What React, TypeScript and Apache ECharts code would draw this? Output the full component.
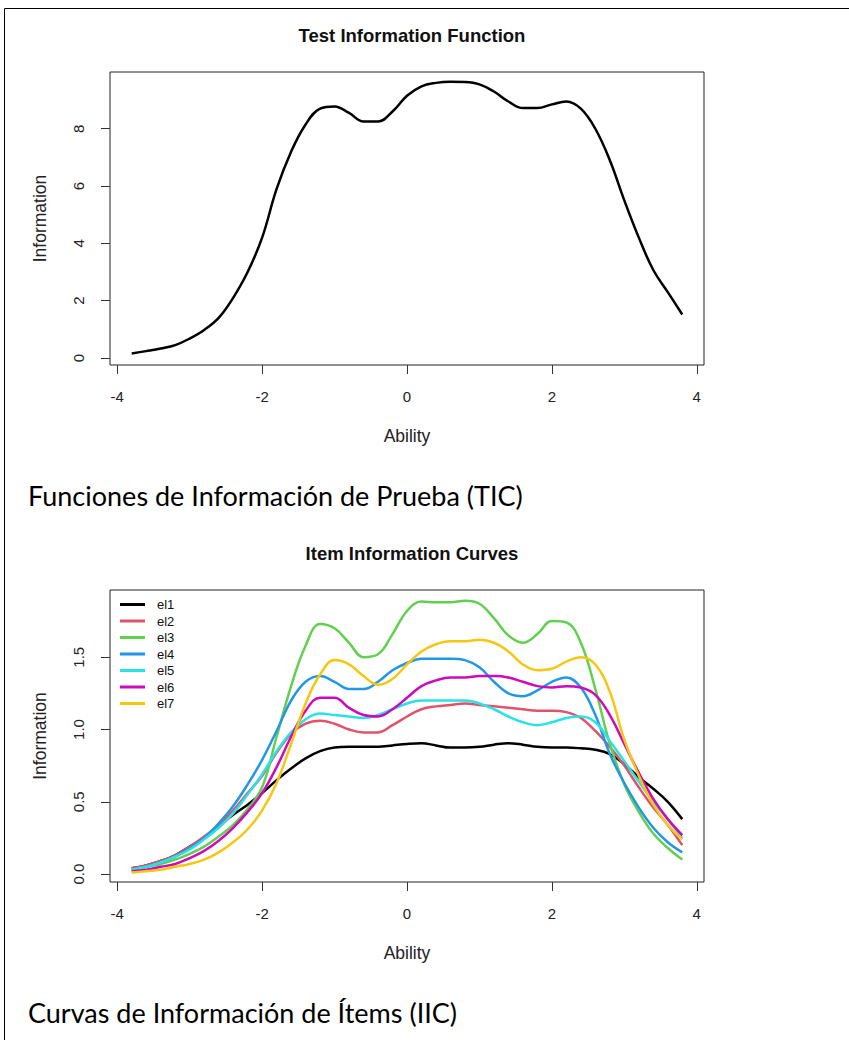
import React, { useEffect, useRef } from "react";
import * as echarts from "echarts";

const theta = [
  -3.8, -3.6, -3.4, -3.2, -3.0, -2.8, -2.6, -2.4, -2.2, -2.0, -1.8, -1.6, -1.4,
  -1.2, -1.0, -0.8, -0.6, -0.4, -0.2, 0.0, 0.2, 0.4, 0.6, 0.8, 1.0, 1.2, 1.4,
  1.6, 1.8, 2.0, 2.2, 2.4, 2.6, 2.8, 3.0, 3.2, 3.4, 3.6, 3.8,
];

const testInfo = [
  0.16, 0.24, 0.33, 0.45, 0.68, 0.98, 1.4, 2.1, 3.0, 4.2, 5.9, 7.2, 8.15, 8.7,
  8.78, 8.55, 8.25, 8.25, 8.6, 9.15, 9.48, 9.6, 9.64, 9.63, 9.55, 9.3, 8.95,
  8.72, 8.72, 8.85, 8.95, 8.7, 8.0, 6.9, 5.5, 4.2, 3.07, 2.3, 1.52,
];

const itemNames = ["el1", "el2", "el3", "el4", "el5", "el6", "el7"];
const itemColors = ["#000000", "#DF536B", "#61D04F", "#2297E6", "#28E2E5", "#CD0BBC", "#F5C710"];

const el1 = [
  0.04, 0.06, 0.09, 0.13, 0.19, 0.25, 0.33, 0.41, 0.48, 0.56, 0.65, 0.73, 0.8,
  0.85, 0.875, 0.88, 0.88, 0.88, 0.89, 0.9, 0.905, 0.89, 0.875, 0.875, 0.88,
  0.895, 0.905, 0.895, 0.88, 0.875, 0.875, 0.87, 0.86, 0.83, 0.76, 0.67, 0.59,
  0.5, 0.38,
];
const el2 = [
  0.04, 0.06, 0.09, 0.13, 0.19, 0.26, 0.34, 0.44, 0.56, 0.68, 0.84, 0.97, 1.04,
  1.06, 1.04, 1.0, 0.98, 0.98, 1.03, 1.09, 1.14, 1.16, 1.17, 1.18, 1.17, 1.16,
  1.15, 1.14, 1.13, 1.13, 1.12, 1.08, 0.99, 0.88, 0.75, 0.6, 0.46, 0.34, 0.2,
];
const el3 = [
  0.03, 0.05, 0.07, 0.1, 0.14, 0.19, 0.26, 0.34, 0.45, 0.6, 0.95, 1.3, 1.58,
  1.73, 1.7, 1.6, 1.5, 1.52, 1.66, 1.82, 1.885, 1.88, 1.88, 1.89, 1.87, 1.77,
  1.65, 1.6, 1.66, 1.75, 1.74, 1.6, 1.28, 0.9, 0.62, 0.43, 0.28, 0.18, 0.1,
];
const el4 = [
  0.03, 0.05, 0.08, 0.12, 0.18, 0.25, 0.35, 0.47, 0.62, 0.79, 0.99, 1.2, 1.33,
  1.37, 1.33, 1.28, 1.28, 1.33, 1.41, 1.46, 1.49, 1.49, 1.49, 1.48, 1.43, 1.33,
  1.25, 1.23, 1.27, 1.33, 1.36, 1.29, 1.1, 0.83, 0.63, 0.46, 0.32, 0.22, 0.15,
];
const el5 = [
  0.03, 0.05, 0.08, 0.12, 0.17, 0.24, 0.32, 0.42, 0.55, 0.69, 0.85, 0.98, 1.07,
  1.11, 1.1, 1.09, 1.08, 1.1, 1.14, 1.18, 1.2, 1.2, 1.2, 1.2, 1.18, 1.14, 1.09,
  1.05, 1.03, 1.05, 1.08, 1.09, 1.05, 0.92, 0.78, 0.64, 0.5, 0.38, 0.25,
];
const el6 = [
  0.02, 0.03, 0.05, 0.07, 0.11, 0.16, 0.23, 0.32, 0.43, 0.56, 0.74, 0.95, 1.13,
  1.22, 1.22, 1.15, 1.1, 1.09, 1.14, 1.22, 1.3, 1.34, 1.36, 1.36, 1.37, 1.37,
  1.36, 1.33, 1.3, 1.29, 1.3, 1.29, 1.24, 1.1, 0.9, 0.7, 0.52, 0.38, 0.27,
];
const el7 = [
  0.01, 0.02, 0.03, 0.05, 0.07, 0.1, 0.15, 0.22, 0.31, 0.44, 0.63, 0.9, 1.18,
  1.38, 1.48, 1.45, 1.37, 1.31, 1.35, 1.45, 1.54, 1.59, 1.61, 1.61, 1.62, 1.6,
  1.54, 1.45, 1.41, 1.42, 1.47, 1.5, 1.45, 1.26, 0.93, 0.68, 0.48, 0.34, 0.24,
];
const itemValues = [el1, el2, el3, el4, el5, el6, el7];

const xTicks = [-4, -2, 0, 2, 4];
const topYTicks = [0, 2, 4, 6, 8];
const bottomYTicks = [0, 0.5, 1.0, 1.5];

const FONT = "Liberation Sans";

export default function App() {
  const ref = useRef<HTMLDivElement>(null);
  useEffect(() => {
    if (!ref.current) return;
    const chart = echarts.init(ref.current, null, { renderer: "svg" });

    const xAxisBase = (gridIndex: number) => ({
      type: "value",
      gridIndex,
      min: -4.1,
      max: 4.1,
      name: "Ability",
      nameLocation: "middle",
      nameGap: 62,
      nameTextStyle: { fontFamily: FONT, fontSize: 17.5, color: "#222" },
      axisLine: { show: false, onZero: false },
      splitLine: { show: false },
      axisTick: {
        show: true,
        inside: false,
        length: 9,
        customValues: xTicks,
        lineStyle: { color: "#333", width: 1 },
      },
      axisLabel: {
        customValues: xTicks,
        margin: 24,
        fontFamily: FONT,
        fontSize: 15,
        color: "#222",
      },
    });

    const yAxisBase = (gridIndex: number, min: number, max: number, ticks: number[], fmt: (v: number) => string) => ({
      type: "value",
      gridIndex,
      min,
      max,
      name: "Information",
      nameLocation: "middle",
      nameRotate: 90,
      nameGap: 61,
      nameTextStyle: { fontFamily: FONT, fontSize: 17.5, color: "#222" },
      axisLine: { show: false, onZero: false },
      splitLine: { show: false },
      axisTick: {
        show: true,
        inside: false,
        length: 9,
        customValues: ticks,
        lineStyle: { color: "#333", width: 1 },
      },
      axisLabel: {
        customValues: ticks,
        rotate: 90,
        margin: 24,
        fontFamily: FONT,
        fontSize: 15,
        color: "#222",
        formatter: fmt,
      },
    });

    const option: any = {
      animation: false,
      backgroundColor: "#ffffff",
      title: [
        {
          text: "Test Information Function",
          left: 407,
          top: 21,
          textAlign: "center",
          textStyle: { fontFamily: FONT, fontSize: 18.5, fontWeight: "bold", color: "#111" },
        },
        {
          text: "Item Information Curves",
          left: 407,
          top: 539,
          textAlign: "center",
          textStyle: { fontFamily: FONT, fontSize: 18.5, fontWeight: "bold", color: "#111" },
        },
      ],
      grid: [
        { left: 110, top: 72, width: 594, height: 293, show: true, borderColor: "#222", borderWidth: 1, backgroundColor: "transparent" },
        { left: 110, top: 590, width: 594, height: 292, show: true, borderColor: "#222", borderWidth: 1, backgroundColor: "transparent" },
      ],
      xAxis: [xAxisBase(0), xAxisBase(1)],
      yAxis: [
        yAxisBase(0, -0.244, 9.98, topYTicks, (v: number) => String(v)),
        yAxisBase(1, -0.055, 1.965, bottomYTicks, (v: number) => v.toFixed(1)),
      ],
      legend: {
        data: itemNames,
        orient: "vertical",
        left: 120,
        top: 598,
        padding: 0,
        icon: "rect",
        itemWidth: 25,
        itemHeight: 3,
        itemGap: 3.5,
        textStyle: {
          fontFamily: FONT,
          fontSize: 13,
          lineHeight: 13,
          color: "#111",
          padding: [0, 0, 0, 7],
        },
      },
      graphic: [
        {
          type: "rect",
          shape: { x: 4.5, y: 8.5, width: 900, height: 1100 },
          style: { fill: "none", stroke: "#000", lineWidth: 1 },
          silent: true,
        },
        {
          type: "text",
          x: 28,
          y: 495,
          style: {
            text: "Funciones de Información de Prueba (TIC)",
            fontFamily: "Lato",
            fontSize: 27,
            fill: "#000",
            textVerticalAlign: "middle",
          },
        },
        {
          type: "text",
          x: 28,
          y: 1012,
          style: {
            text: "Curvas de Información de Ítems (IIC)",
            fontFamily: "Lato",
            fontSize: 27,
            fill: "#000",
            textVerticalAlign: "middle",
          },
        },
      ],
      series: [
        {
          name: "TIF",
          type: "line",
          xAxisIndex: 0,
          yAxisIndex: 0,
          data: theta.map((t, i) => [t, testInfo[i]]),
          showSymbol: false,
          smooth: 0.4,
          lineStyle: { color: "#000", width: 2.5 },
          itemStyle: { color: "#000" },
        },
        ...itemNames.map((n, k) => ({
          name: n,
          type: "line",
          xAxisIndex: 1,
          yAxisIndex: 1,
          data: theta.map((t, i) => [t, itemValues[k][i]]),
          showSymbol: false,
          smooth: 0.4,
          lineStyle: { color: itemColors[k], width: 2.5 },
          itemStyle: { color: itemColors[k] },
        })),
      ],
    };
    chart.setOption(option);
    return () => chart.dispose();
  }, []);

  return (
    <div
      ref={ref}
      style={{ position: "fixed", left: 0, top: 0, width: 849, height: 1040, background: "#fff" }}
    />
  );
}
